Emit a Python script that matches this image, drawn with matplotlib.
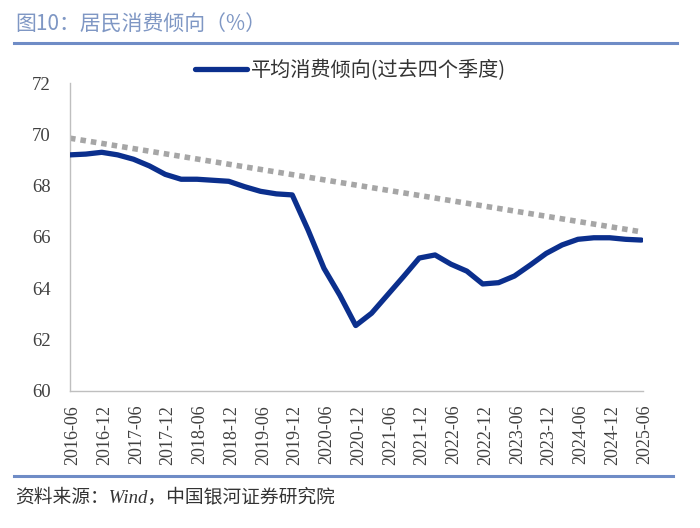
import matplotlib
matplotlib.use("Agg")
import matplotlib.pyplot as plt
import matplotlib.transforms as mtransforms
import numpy as np

quarters = ["2016-06","2016-09","2016-12","2017-03","2017-06","2017-09","2017-12",
            "2018-03","2018-06","2018-09","2018-12","2019-03","2019-06","2019-09",
            "2019-12","2020-03","2020-06","2020-09","2020-12","2021-03","2021-06",
            "2021-09","2021-12","2022-03","2022-06","2022-09","2022-12","2023-03",
            "2023-06","2023-09","2023-12","2024-03","2024-06","2024-09","2024-12",
            "2025-03","2025-06"]
apc = [69.20, 69.23, 69.30, 69.20, 69.03, 68.77, 68.44, 68.25, 68.25, 68.21, 68.17,
       67.96, 67.78, 67.68, 67.64, 66.27, 64.78, 63.73, 62.55, 63.03, 63.74, 64.45,
       65.18, 65.30, 64.94, 64.67, 64.17, 64.22, 64.48, 64.91, 65.36, 65.69, 65.91,
       65.97, 65.97, 65.91, 65.88]
trend_start = 69.85
trend_end = 66.20
yticks = [60, 62, 64, 66, 68, 70, 72]

cjk = ['Noto Sans CJK SC', 'DejaVu Sans']
serif = ['Liberation Serif', 'DejaVu Serif']

fig = plt.figure(figsize=(7.0, 5.28), dpi=100)
ax = fig.add_axes([0.100, 0.2595, 0.8186, 0.5833])

x = np.arange(len(quarters))
ax.plot([x[0], x[-1]], [trend_start, trend_end], color='#a6a6a6', lw=4.0,
        linestyle=(0, (1.0, 0.9)), dash_capstyle='butt', zorder=2)
line, = ax.plot(x, apc, color='#0b2f8d', lw=3.8, solid_joinstyle='round',
                solid_capstyle='round', zorder=3, label='平均消费倾向(过去四个季度)')

ax.set_xlim(0, 36.1)
ax.set_ylim(60, 72)
ax.set_yticks(yticks)
ax.set_yticklabels([str(v) for v in yticks], fontfamily=serif, fontsize=13.5, color='#404040')
ax.set_xticks(x[::2])
ax.set_xticklabels(quarters[::2], rotation=90, fontfamily=serif, fontsize=13, color='#404040')
ax.tick_params(axis='y', length=0, pad=14)
ax.tick_params(axis='x', length=0, pad=10)
offset = mtransforms.ScaledTranslation(3/100, 0, fig.dpi_scale_trans)
for lab in ax.get_xticklabels():
    lab.set_transform(lab.get_transform() + offset)
for s in ['top', 'right']:
    ax.spines[s].set_visible(False)
for s in ['left', 'bottom']:
    ax.spines[s].set_color('#bfbfbf')
    ax.spines[s].set_linewidth(1.0)

leg = ax.legend(handles=[line], loc='center', bbox_to_anchor=(0.49, 1.042), frameon=False,
                prop={'family': cjk, 'size': 14.5}, handlelength=2.6, handletextpad=0.2)
for t in leg.get_texts():
    t.set_color('#333333')

fig.text(0.022, 0.953, '图10：居民消费倾向（%）', fontfamily=cjk, fontsize=15,
         color='#7f97c4', va='center', ha='left')
fig.add_artist(plt.Line2D([0.020, 0.967], [0.9186, 0.9186], color='#6f8cc6', lw=2.2,
                          transform=fig.transFigure))
fig.add_artist(plt.Line2D([0.020, 0.962], [0.0985, 0.0985], color='#6f8cc6', lw=2.2,
                          transform=fig.transFigure))
fig.text(0.022, 0.0587, '资料来源：Wind，中国银河证券研究院',
         fontfamily=['Liberation Serif', 'Noto Sans CJK SC', 'DejaVu Sans'],
         fontsize=13.5, color='#333333', va='center', ha='left', style='italic')

fig.savefig('out.png', dpi=100)
